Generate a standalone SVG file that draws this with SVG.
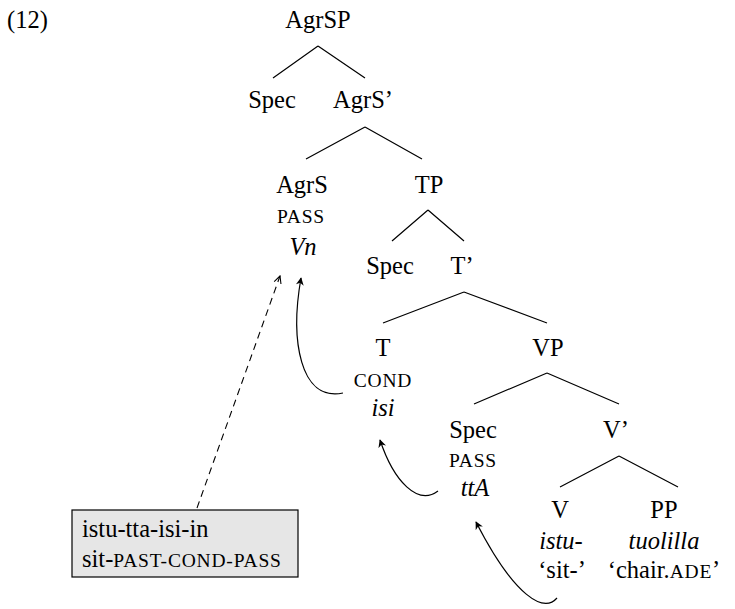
<svg xmlns="http://www.w3.org/2000/svg" width="735" height="609" viewBox="0 0 735 609">
<defs>
<style>
text{font-family:"Liberation Serif","Times New Roman",serif;font-size:24.5px;fill:#000;text-anchor:middle}
.sc{font-size:19.5px;letter-spacing:0.8px}
.it{font-style:italic}
.edge{stroke:#000;stroke-width:1.2;fill:none}
.mv{stroke:#000;stroke-width:1.2;fill:none;marker-end:url(#ah)}
.dash{stroke:#000;stroke-width:1.1;fill:none;stroke-dasharray:7,5;marker-end:url(#oh)}
</style>
<marker id="ah" viewBox="0 0 10 10" refX="9" refY="5" markerWidth="8" markerHeight="8" orient="auto" markerUnits="userSpaceOnUse">
<path d="M0,0 L10,5 L0,10 L3,5 Z" fill="#000"/>
</marker>
<marker id="oh" viewBox="0 0 10 10" refX="9" refY="5" markerWidth="9" markerHeight="9" orient="auto" markerUnits="userSpaceOnUse">
<path d="M1,1 L9,5 L1,9" fill="none" stroke="#000" stroke-width="1.2"/>
</marker>
</defs>
<rect width="735" height="609" fill="#fff"/>
<text x="7" y="28" style="text-anchor:start">(12)</text>

<g id="connectors">
<path class="edge" d="M318,46 L273,78 M318,46 L365,78"/>
<path class="edge" d="M365,127 L306,159 M365,127 L422,159"/>
<path class="edge" d="M428,210 L392,241 M428,210 L464,241"/>
<path class="edge" d="M464,292 L383,323 M464,292 L547,323"/>
<path class="edge" d="M547,373 L474,404 M547,373 L619,404"/>
<path class="edge" d="M619,456 L560,487 M619,456 L678,487"/>
<path class="mv" d="M343,393 C300,402 290,340 301,278"/>
<path class="mv" d="M438,491 C418,506 394,482 380,440"/>
<path class="mv" d="M557,598 C544,613 515,598 476,522"/>
<path class="dash" d="M197,508 L280,276"/>
</g>

<g id="AgrSP"><text x="318" y="28">AgrSP</text></g>
<g id="Spec1"><text x="272" y="108">Spec</text></g>
<g id="AgrSbar"><text x="363" y="108">AgrS’</text></g>
<g id="AgrS"><text x="302" y="193">AgrS</text><text class="sc" x="301" y="223">PASS</text><text class="it" x="303" y="255">Vn</text></g>
<g id="TP"><text x="429" y="193">TP</text></g>
<g id="Spec2"><text x="390" y="274">Spec</text></g>
<g id="Tbar"><text x="462" y="274">T’</text></g>
<g id="T"><text x="383" y="356">T</text><text class="sc" x="383" y="387">COND</text><text class="it" x="383" y="416">isi</text></g>
<g id="VP"><text x="548" y="356">VP</text></g>
<g id="Spec3"><text x="473" y="438">Spec</text><text class="sc" x="473" y="467">PASS</text><text class="it" x="475" y="496">ttA</text></g>
<g id="Vbar"><text x="616" y="438">V’</text></g>
<g id="V"><text x="560" y="518">V</text><text class="it" x="561" y="549">istu-</text><text x="562" y="578">‘sit-’</text></g>
<g id="PP"><text x="664" y="518">PP</text><text class="it" x="664" y="549">tuolilla</text><text x="664" y="578">‘chair.<tspan class="sc">ADE</tspan>’</text></g>
<g id="gloss">
<rect x="72" y="510" width="226" height="67" fill="#e6e6e6" stroke="#000" stroke-width="1.2"/>
<text x="82" y="537" style="text-anchor:start">istu-tta-isi-in</text>
<text x="82" y="567" style="text-anchor:start">sit-<tspan class="sc">PAST-COND-PASS</tspan></text>
</g>
</svg>
